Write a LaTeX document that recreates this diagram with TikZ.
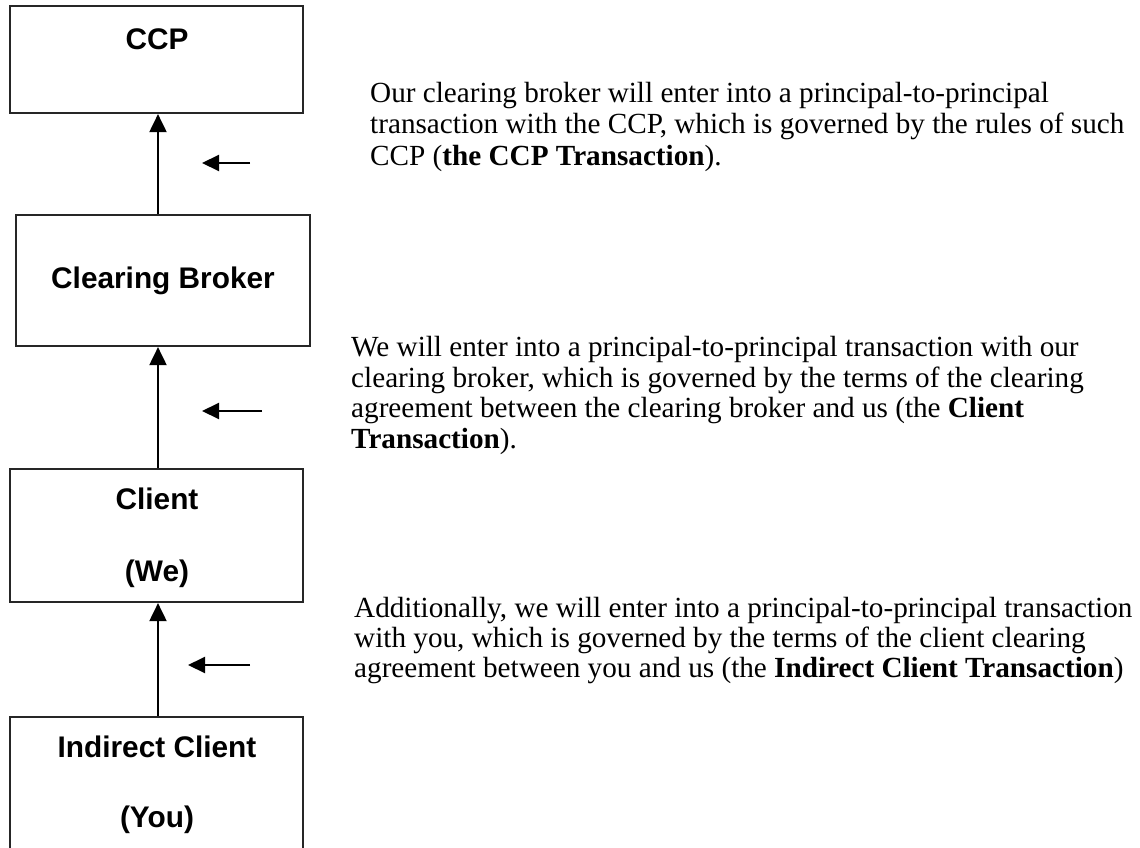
\documentclass[tikz,border=0pt]{standalone}
\usepackage{fontspec}
\setmainfont{Liberation Serif}
\setsansfont{Liberation Sans}
\usetikzlibrary{arrows.meta}
\begin{document}
\begin{tikzpicture}[x=1pt,y=-1pt,
  box/.style={draw=black!85, line width=2.2pt, inner sep=0pt, fill=none},
  lbl/.style={anchor=base, inner sep=0pt, font=\sffamily\bfseries\fontsize{29.8}{31}\selectfont},
  txt/.style={anchor=base west, inner sep=0pt, font=\fontsize{29.2}{31}\selectfont},
  conn/.style={line width=2pt, -{Triangle[length=18pt,width=17pt]}},
  side/.style={line width=2pt, -{Triangle[length=17pt,width=16pt]}}]
\useasboundingbox (0,0) rectangle (1140,848);
% boxes
\node[box, minimum width=293pt, minimum height=107pt] (ccp) at (156.5,59.5) {};
\node[box, minimum width=294pt, minimum height=131pt] (cb) at (163,280.5) {};
\node[box, minimum width=293pt, minimum height=133pt] (cl) at (156.5,535.5) {};
\node[box, minimum width=293pt, minimum height=163pt] (ic) at (156.5,798.5) {};
% labels
\node[lbl] (ccpl) at (157,50) {CCP};
\node[lbl] (cbl) at (163,288) {Clearing Broker};
\node[lbl] (cla) at (157,509) {Client};
\node[lbl] (clb) at (157,581) {(We)};
\node[lbl] (ica) at (157,757) {Indirect Client};
\node[lbl] (icb) at (157,827) {(You)};
% vertical connectors
\coordinate (ax) at (158,0);
\draw[conn] (ax |- cb.north) -- (ax |- ccp.south);
\draw[conn] (ax |- cl.north) -- (ax |- cb.south);
\draw[conn] (ax |- ic.north) -- (ax |- cl.south);
% side arrows
\coordinate (s1t) at (250,163); \coordinate (s1h) at (202,163);
\coordinate (s2t) at (262,411); \coordinate (s2h) at (202,411);
\coordinate (s3t) at (250,665); \coordinate (s3h) at (188,665);
\draw[side] (s1t) -- (s1h);
\draw[side] (s2t) -- (s2h);
\draw[side] (s3t) -- (s3h);
% paragraph 1
\node[txt] (p1a) at (370,103) {Our clearing broker will enter into a principal-to-principal};
\node[txt] (p1b) at (370,134) {transaction with the CCP, which is governed by the rules of such};
\node[txt] (p1c) at (370,165) {CCP (\textbf{the CCP Transaction}).};
% paragraph 2
\node[txt] (p2a) at (351,356) {We will enter into a principal-to-principal transaction with our};
\node[txt] (p2b) at (351,387) {clearing broker, which is governed by the terms of the clearing};
\node[txt] (p2c) at (351,417) {agreement between the clearing broker and us (the \textbf{Client}};
\node[txt] (p2d) at (351,448) {\textbf{Transaction}).};
% paragraph 3
\node[txt] (p3a) at (354,617) {Additionally, we will enter into a principal-to-principal transaction};
\node[txt] (p3b) at (354,647) {with you, which is governed by the terms of the client clearing};
\node[txt] (p3c) at (354,677) {agreement between you and us (the \textbf{Indirect Client Transaction})};
\end{tikzpicture}
\end{document}
